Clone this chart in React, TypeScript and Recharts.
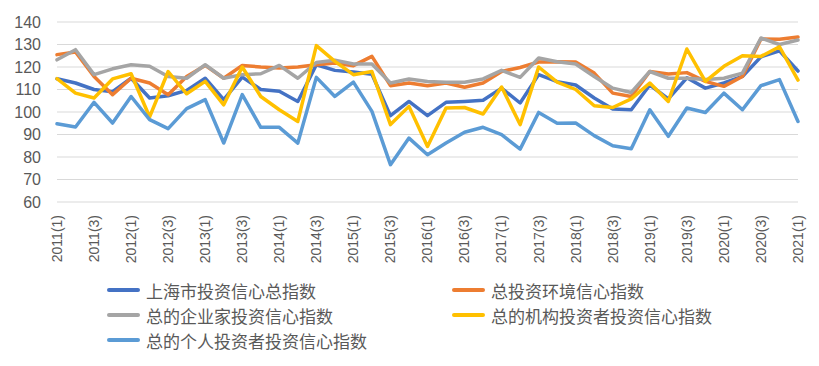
import { CartesianGrid, Legend, Line, LineChart, XAxis, YAxis } from 'recharts';

const quarters: string[] = [];
for (let y = 2011; y <= 2021; y++) {
  for (let q = 1; q <= 4; q++) {
    if (y === 2021 && q > 1) break;
    quarters.push(`${y}(${q})`);
  }
}

const shanghai = [
  114.8, 112.9, 110, 109, 115, 106.2, 107.2, 109.6, 115, 105.5, 115.5, 110, 109.2, 104.7, 121, 118.5,
  117.8, 116.8, 98.4, 104.7, 98.4, 104.3, 104.7, 105.2, 110.6, 104, 116.6, 113.5, 112, 106.2, 101.3,
  101, 112, 105.8, 115.2, 110.6, 112.9, 115.8, 124.5, 127.2, 118.2,
];
const environment = [
  125.5, 126.7, 115.8, 107.7, 115, 112.9, 107.7, 115.8, 120.7, 115, 120.7, 120, 119.6, 120, 121, 121.8,
  120.6, 124.7, 111.7, 112.9, 111.7, 112.9, 111, 112.9, 118, 119.8, 122.2, 122.3, 122.2, 117.3, 108.4,
  106.9, 118, 116.9, 117.5, 113.6, 111.4, 115.8, 132.5, 132.3, 133.3,
];
const entrepreneur = [
  123.2, 127.7, 116.6, 119.2, 121, 120.3, 115.8, 115, 121, 115, 116.6, 117, 120.7, 115, 122, 123,
  121.3, 121.3, 112.9, 114.7, 113.6, 113.2, 113.2, 114.7, 118.5, 115.4, 124, 122.3, 121.3, 115.8, 110.6,
  108.7, 118, 115, 115, 114.4, 115, 117.3, 132.9, 130, 132,
];
const institution = [
  114.8, 108.4, 106.2, 114.7, 117, 97.8, 118, 108.1, 113.6, 103.2, 120, 106.9, 101, 95.8, 129.5, 122.5,
  116.6, 118, 94.4, 102.5, 84.7, 101.8, 102, 99.1, 111.1, 94.4, 120, 113.3, 110, 102.8, 102,
  105.8, 112.9, 104.7, 128, 113.6, 120.3, 125, 124.7, 129, 114.2,
];
const individual = [
  94.8, 93.3, 104.3, 95.1, 106.9, 96.6, 92.6, 101.5, 105.5, 86.2, 107.7, 93.2, 93.2, 86.2, 115.4, 106.9,
  113.3, 100.3, 76.6, 88.4, 81, 86.2, 91, 93.2, 89.9, 83.5, 99.8, 95, 95.1, 89.5, 85,
  83.7, 101, 89.2, 101.8, 99.8, 108.4, 101, 111.7, 114.4, 95.8,
];

const yTicks = [60, 70, 80, 90, 100, 110, 120, 130, 140];

const series = [
  { key: 'shanghai', name: '上海市投资信心总指数', color: '#4472C4', values: shanghai },
  { key: 'environment', name: '总投资环境信心指数', color: '#ED7D31', values: environment },
  { key: 'entrepreneur', name: '总的企业家投资信心指数', color: '#A5A5A5', values: entrepreneur },
  { key: 'institution', name: '总的机构投资者投资信心指数', color: '#FFC000', values: institution },
  { key: 'individual', name: '总的个人投资者投资信心指数', color: '#5B9BD5', values: individual },
];

const data = quarters.map((q, i) => {
  const row: Record<string, string | number> = { quarter: q };
  series.forEach((s) => {
    row[s.key] = s.values[i];
  });
  return row;
});

const QuarterTick = (props: any) => {
  const { x, y, payload } = props;
  return (
    <text
      x={x}
      y={y}
      transform={`rotate(-90, ${x}, ${y})`}
      dx={-13}
      dy="0.35em"
      textAnchor="end"
      fill="#595959"
      fontSize={14}
      fontFamily="'Liberation Sans', Arial, sans-serif"
    >
      {payload.value}
    </text>
  );
};

const LegendBox = () => (
  <div
    style={{
      display: 'grid',
      gridTemplateColumns: '345px 345px',
      rowGap: 5,
      fontFamily: "'Noto Sans CJK SC', sans-serif",
      fontSize: 17,
      color: '#595959',
    }}
  >
    {series.map((s) => (
      <div key={s.key} style={{ display: 'flex', alignItems: 'center', height: 20 }}>
        <span
          style={{
            display: 'inline-block',
            width: 33,
            height: 4,
            borderRadius: 2,
            background: s.color,
            marginRight: 6,
          }}
        />
        <span>{s.name}</span>
      </div>
    ))}
  </div>
);

export default function App() {
  return (
    <LineChart width={803} height={350} data={data} margin={{ top: 14, right: 13, left: 0, bottom: 0 }}>
      <CartesianGrid vertical={false} stroke="#D9D9D9" strokeWidth={1} />
      <XAxis
        dataKey="quarter"
        interval={1}
        height={156}
        axisLine={false}
        tickLine={false}
        tickSize={0}
        tickMargin={0}
        tick={<QuarterTick />}
      />
      <YAxis
        type="number"
        domain={[60, 140]}
        ticks={yTicks}
        interval={0}
        width={49}
        axisLine={false}
        tickLine={false}
        tickSize={0}
        tickMargin={16}
        tick={{ fill: '#595959', fontSize: 16, fontFamily: "'Liberation Sans', Arial, sans-serif" }}
      />
      <Legend
        layout="horizontal"
        verticalAlign="middle"
        align="center"
        wrapperStyle={{ top: 272, left: 99, width: 700 }}
        content={<LegendBox />}
      />
      {series.map((s) => (
        <Line
          key={s.key}
          dataKey={s.key}
          name={s.name}
          stroke={s.color}
          strokeWidth={3.5}
          strokeLinejoin="round"
          strokeLinecap="round"
          dot={false}
          activeDot={false}
          isAnimationActive={false}
        />
      ))}
    </LineChart>
  );
}
